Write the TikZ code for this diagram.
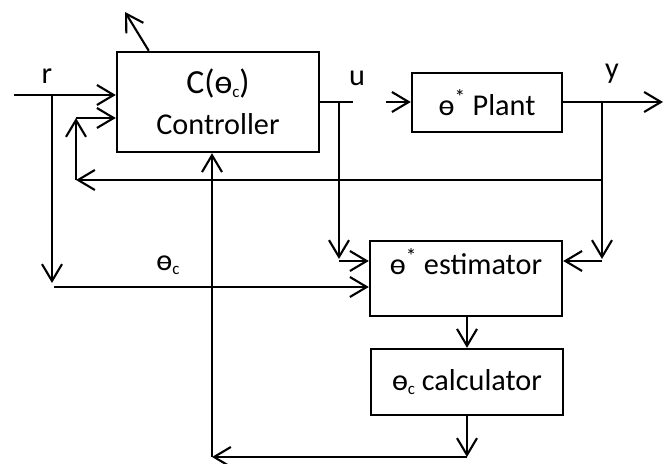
\documentclass[tikz,border=0pt]{standalone}
\usepackage{fontspec}
\setmainfont{Carlito}
\usetikzlibrary{positioning,arrows.meta,calc}
\tikzset{
  fig/.style={font=\fontsize{21.5}{28}\selectfont},
  box/.style={draw,line width=1.7pt,align=center,inner sep=2pt},
  ln/.style={-{Straight Barb[length=4.2mm,width=5mm,line width=1.5pt]},line width=1.5pt},
  wire/.style={line width=1.5pt},
  lbl/.style={inner sep=1pt},
}
\newcommand{\thc}{ɵ\raisebox{-0.25ex}{\fontsize{12}{12}\selectfont c}}
\newcommand{\ths}{ɵ\textsuperscript{*}}

\begin{document}
\begin{tikzpicture}[fig,x=0.025cm,y=-0.025cm]
\useasboundingbox (0,0) rectangle (672,464);

\node[box,minimum width=5.05cm,minimum height=2.5cm] (ctrl) at (218,102)
     {{\fontsize{24}{28}\selectfont C(\thc)}\\[1pt]Controller};
\node[box,minimum width=3.75cm,minimum height=1.475cm] (plant) at (487,102.5)
     {\ths{} Plant};
\node[box,minimum width=4.8cm,minimum height=1.875cm] (est) at (466,278.5)
     {\ths{} estimator\\[-4pt]\mbox{}};
\node[box,minimum width=4.8cm,minimum height=1.65cm] (calc) at (467,382)
     {\thc{} calculator};

\node[lbl] (lr) at (47,76) {r};
\node[lbl] (lu) at (357,78) {u};
\node[lbl] (ly) at (612,74) {y};
\node[lbl] (lth) at (168,265) {\thc};

% free ends and branch points
\coordinate (tilt) at ($(ctrl.north west)+(33,0)$);
\coordinate (tiltend) at (125,12);
\coordinate (rin) at (14,95);
\coordinate (rb) at (52,95);
\coordinate (rdn) at (52,283);
\coordinate (thin) at (54,287);
\coordinate (uend) at (353,102);
\coordinate (ub) at (339,102);
\coordinate (udn) at (339,261);
\coordinate (pin) at (386,102);
\coordinate (yout) at (663,102);
\coordinate (yb) at (602,102);
\coordinate (ydn) at (602,261);
\coordinate (fb) at (602,180);
\coordinate (fbl) at (76,180);
\coordinate (fbu) at (76,118);
\coordinate (bot) at (calc.south |- 0,457);
\coordinate (botl) at (212,457);

% controller and plant
\draw[ln] (tilt) -- (tiltend);
\draw[ln] (rin) -- (rin -| ctrl.west);
\draw[ln] (rb) -- (rdn);
\draw[ln] (thin) -- (thin -| est.west);
\draw[wire] (ctrl.east |- uend) -- (uend);
\draw[ln] (pin) -- (pin -| plant.west);
\draw[ln] (plant.east |- yout) -- (yout);

% feedback
\draw[ln] (ub) -- (udn |- 0,259);
\draw[ln] (udn) -- (udn -| est.west);
\draw[ln] (yb) -- (ydn |- 0,259);
\draw[ln] (ydn) -- (ydn -| est.east);
\draw[ln] (fb) -- (fbl);
\draw[ln] (fbl) -- (fbu);
\draw[ln] (fbu) -- (fbu -| ctrl.west);

% estimator and calculator
\draw[ln] (est.south -| calc.north) -- (calc.north);
\draw[ln] (calc.south) -- (bot);
\draw[ln] (bot) -- (botl);
\draw[ln] (botl) -- (botl |- ctrl.south);

\end{tikzpicture}
\end{document}
